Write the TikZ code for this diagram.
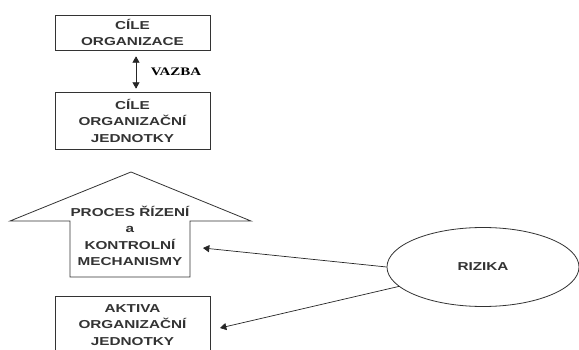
\documentclass[tikz,border=0pt]{standalone}
\usepackage{fontspec}
\setmainfont[FakeStretch=1.33]{Liberation Sans}
\newfontfamily\vazbafont[FakeStretch=1.3]{Liberation Serif}
\usepackage{tikz}
\usetikzlibrary{arrows, calc, shapes.geometric}
\usepackage{xcolor}

\tikzset{
	box/.style={draw=black!80, line width=0.8pt, minimum width=155pt, align=center, inner sep=0pt,
		font=\fontsize{11.5}{16.5}\selectfont\bfseries, text=black!80},
	riz/.style={-triangle 60, line width=0.7pt, black!85},
}

\begin{document}
\begin{tikzpicture}[x=1pt, y=-1pt]
	\clip (0,0) rectangle (579,350);
	\fill [white] (0,0) rectangle (579,350);
	% goals
	\node [box, minimum height=35pt] (cile) at (132.5,32.5) {CÍLE\\ORGANIZACE};
	\node [box, minimum height=57pt] (jednotka) at (132.5,120.5) {CÍLE\\ORGANIZAČNÍ\\JEDNOTKY};
	\draw [triangle 60-triangle 60, line width=0.7pt, black!85, shorten <=6pt, shorten >=3pt]
		([xshift=3.5pt]cile.south) -- ([xshift=3.5pt]jednotka.north);
	\path (176,72) node (vazba) {\vazbafont\bfseries\fontsize{11.5}{12}\selectfont VAZBA};
	% arrow shape
	\draw [line width=0.8pt, black!80, line join=miter]
		(131,172) -- (251,221) -- (190,221) -- (190,277) -- (70,277) -- (70,221) -- (10,221) -- cycle;
	\node [box, draw=none, minimum width=120pt, minimum height=66pt] (proces) at (130,236)
		{PROCES ŘÍZENÍ\\a\\KONTROLNÍ\\MECHANISMY};
	% assets
	\node [box, minimum height=58pt] (aktiva) at (132.5,325) {AKTIVA\\ORGANIZAČNÍ\\JEDNOTKY};
	% risks
	\node [ellipse, draw=black!80, line width=0.8pt, minimum width=192pt, minimum height=79pt,
		inner sep=0pt, font=\fontsize{11.5}{14}\selectfont\bfseries, text=black!80] (rizika) at (483,267) {RIZIKA};
	\coordinate (kproces) at (203,248);
	\coordinate (kaktiva) at (220,328);
	\draw [riz] (rizika.west) -- (kproces);
	\draw [riz] (rizika.193) -- (kaktiva);
\end{tikzpicture}
\end{document}
